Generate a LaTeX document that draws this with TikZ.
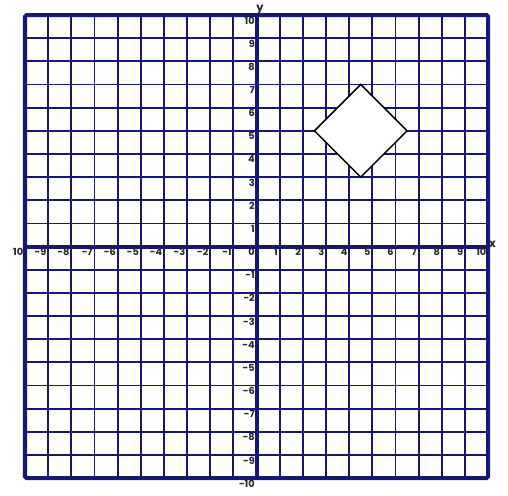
\documentclass[tikz,border=0pt]{standalone}
\usepackage{fontspec}
\setmainfont{Poppins}
\usepackage{tikz}
\usetikzlibrary{positioning}
\definecolor{gridnavy}{RGB}{22,22,115}

\begin{document}
\begin{tikzpicture}

		\tikzstyle{gridline}=[draw=gridnavy, line width=2.3pt]
		\tikzstyle{axisline}=[draw=gridnavy, line width=5pt]
		\tikzstyle{numlab}=[anchor=north east, inner sep=2pt, text=black!85, font=\fontsize{12}{12}\selectfont\bfseries]
		\tikzstyle{axisname}=[inner sep=1pt, text=black!85, font=\fontsize{14}{14}\selectfont\bfseries]

		\useasboundingbox (-11.08,-10.73) rectangle (10.86,10.65);

		% grid
		\foreach \i in {-9,...,9} {
			\draw [gridline] (\i,-10) -- (\i,10);
			\draw [gridline] (-10,\i) -- (10,\i);
		}
		\draw [axisline] (-10,0) -- (10,0);
		\draw [axisline] (0,-10) -- (0,10);
		\draw [axisline, rounded corners=2pt] (-10,-10) rectangle (10,10);

		% square turned on its corner
		\draw [line width=1.8pt, fill=white] (2.5,5) -- (4.5,7) -- (6.5,5) -- (4.5,3) -- cycle;

		% numbers on the x axis
		\foreach \i in {-9,...,10}
			\node (xl\i) at (\i,0) [numlab] {\i};
		\node (xlm10) at (-10,0) [numlab] {10};

		% numbers on the y axis
		\foreach \i in {1,...,10}
			\node (yl\i) at (0,\i) [numlab] {\i};
		\foreach \i in {-10,...,-1}
			\node (yl\i) at (0,\i) [numlab] {\i};

		\node (xname) at (10,0.1) [axisname, anchor=west] {x};
		\node (yname) at (0.15,10) [axisname, anchor=south] {y};

\end{tikzpicture}
\end{document}
